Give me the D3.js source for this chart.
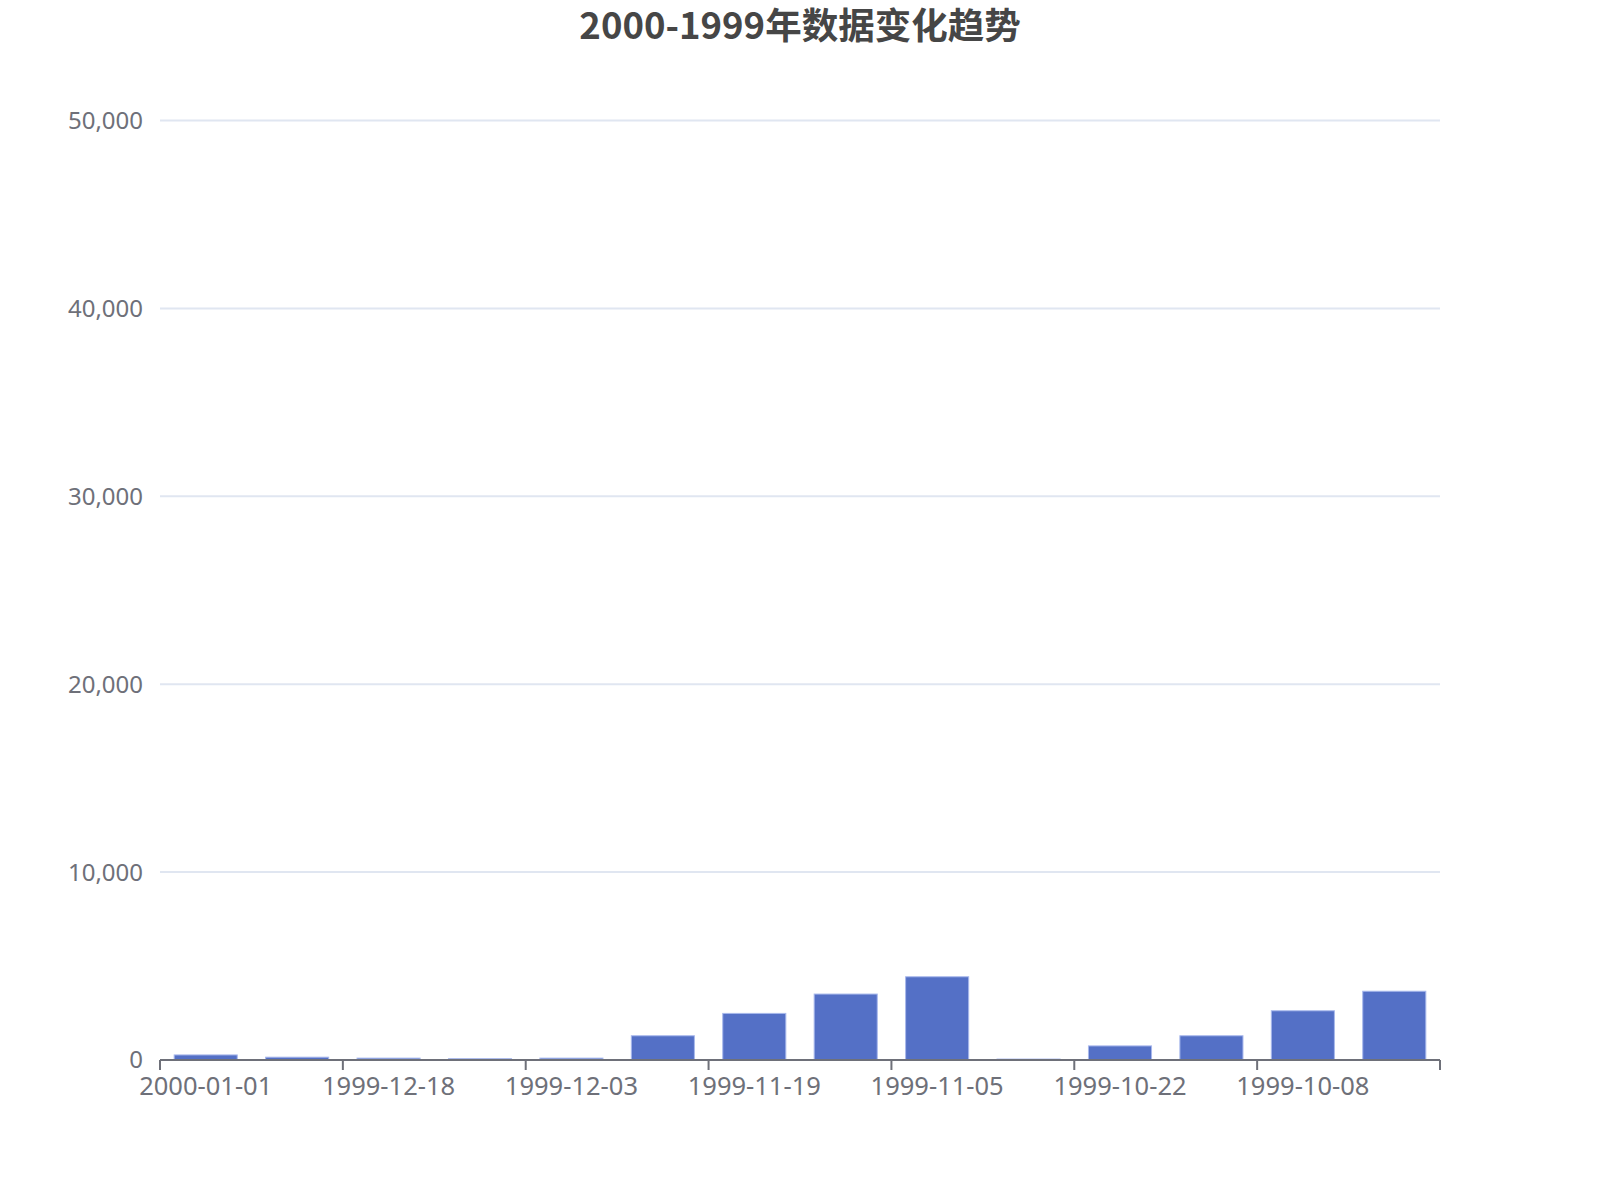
<!DOCTYPE html>
<html>
<head>
<meta charset="utf-8">
<script src="https://cdn.jsdelivr.net/npm/d3@7"></script>
<style>
  body { margin: 0; background: #fff; }
  text { font-family: "Noto Sans", "Noto Sans CJK SC", sans-serif; }
</style>
</head>
<body>
<div id="wrapper"></div>
<script>
const titleText = '2000-1999年数据变化趋势'
const dates = ['2000-01-01', '1999-12-25', '1999-12-18', '1999-12-11', '1999-12-03', '1999-11-26', '1999-11-19',
  '1999-11-12', '1999-11-05', '1999-10-29', '1999-10-22', '1999-10-15', '1999-10-08', '1999-10-01']
const values = [270, 150, 100, 70, 100, 1290, 2480, 3510, 4430, 50, 750, 1290, 2620, 3660]
const yTicks = [0, 10000, 20000, 30000, 40000, 50000]

function drawBars() {
  const dimensions = {
    width: 1600,
    height: 1200,
    margin: { top: 120.5, right: 160, bottom: 140, left: 160 }
  }
  dimensions.boundedWidth = dimensions.width - dimensions.margin.left - dimensions.margin.right
  dimensions.boundedHeight = 1060 - dimensions.margin.top

  const wrapper = d3.select('#wrapper')
    .append('svg')
      .attr('width', dimensions.width)
      .attr('height', dimensions.height)

  wrapper.append('text')
    .attr('x', 800)
    .attr('y', 39)
    .attr('text-anchor', 'middle')
    .attr('font-size', 36.5)
    .attr('font-weight', 'bold')
    .attr('fill', '#464646')
    .style('font-family', '"Noto Sans CJK SC", "Noto Sans", sans-serif')
    .text(titleText)

  const bounds = wrapper.append('g')
    .attr('transform', `translate(${dimensions.margin.left}, ${dimensions.margin.top})`)

  //scales
  const xScale = d3.scaleBand()
    .domain(dates)
    .range([0, dimensions.boundedWidth])

  const yScale = d3.scaleLinear()
    .domain([0, 50000])
    .range([dimensions.boundedHeight, 0])

  //grid lines
  bounds.append('g')
    .selectAll('line')
    .data(yTicks.filter(d => d > 0))
    .enter().append('line')
      .attr('x1', 0)
      .attr('x2', dimensions.boundedWidth)
      .attr('y1', d => yScale(d))
      .attr('y2', d => yScale(d))
      .attr('stroke', '#E0E6F1')
      .attr('stroke-width', 2)

  //y labels
  bounds.append('g')
    .selectAll('text')
    .data(yTicks)
    .enter().append('text')
      .attr('x', -17)
      .attr('y', d => yScale(d))
      .attr('dy', '0.35em')
      .attr('text-anchor', 'end')
      .attr('font-size', 24)
      .attr('fill', '#6E7079')
      .text(d => d3.format(',')(d))

  //bars
  const barWidth = xScale.bandwidth() * 0.69
  bounds.append('g')
    .selectAll('rect')
    .data(values)
    .enter().append('rect')
      .attr('x', (d, i) => xScale(dates[i]) + (xScale.bandwidth() - barWidth) / 2)
      .attr('y', d => yScale(d))
      .attr('width', barWidth)
      .attr('height', d => dimensions.boundedHeight - yScale(d))
      .attr('fill', '#5470C6')
      .attr('stroke', '#a8b8ec')
      .attr('stroke-width', 1)

  //x axis
  const xAxis = bounds.append('g')
    .attr('transform', `translate(0, ${dimensions.boundedHeight})`)

  xAxis.append('line')
    .attr('x1', 0)
    .attr('x2', dimensions.boundedWidth)
    .attr('stroke', '#6E7079')
    .attr('stroke-width', 2)

  const tickIdx = d3.range(0, dates.length + 1, 2)
  xAxis.selectAll('.tick')
    .data(tickIdx)
    .enter().append('line')
      .attr('x1', i => i === dates.length ? dimensions.boundedWidth : xScale(dates[i]))
      .attr('x2', i => i === dates.length ? dimensions.boundedWidth : xScale(dates[i]))
      .attr('y1', 0)
      .attr('y2', 10)
      .attr('stroke', '#6E7079')
      .attr('stroke-width', 2)

  xAxis.selectAll('.label')
    .data(dates.filter((d, i) => i % 2 === 0))
    .enter().append('text')
      .attr('x', d => xScale(d) + xScale.bandwidth() / 2)
      .attr('y', 35)
      .attr('text-anchor', 'middle')
      .attr('font-size', 25.5)
      .attr('fill', '#6E7079')
      .text(d => d)
}

drawBars()
</script>
</body>
</html>
